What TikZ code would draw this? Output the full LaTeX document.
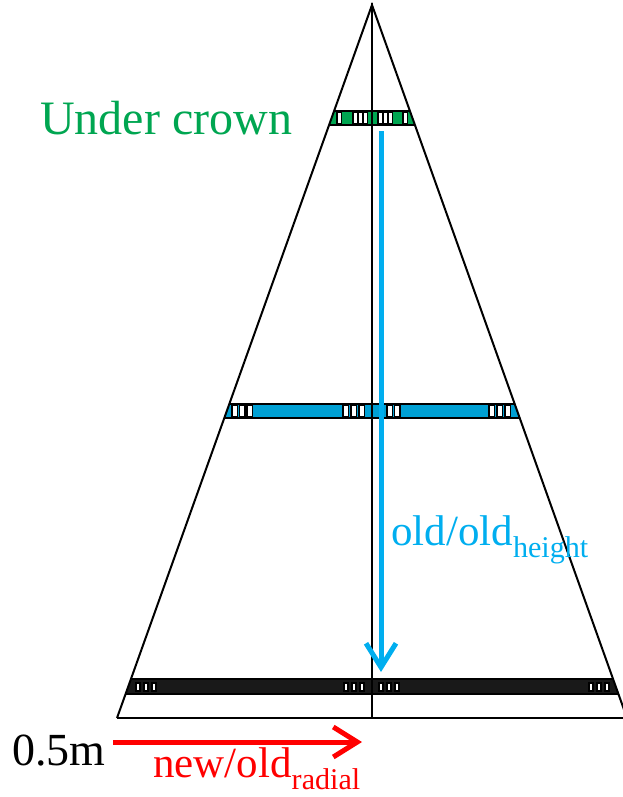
\documentclass[tikz,border=0pt]{standalone}
\usepackage{fontspec}
\setmainfont{Liberation Serif}
\usetikzlibrary{arrows.meta}

\definecolor{crowngreen}{RGB}{0,166,81}
\definecolor{bandblue}{RGB}{0,160,212}
\definecolor{arrowblue}{RGB}{0,174,239}
\definecolor{scalered}{RGB}{255,0,0}

\begin{document}
\begin{tikzpicture}[
  x=1pt, y=-1pt,
  outline/.style={line width=2pt, black},
  band/.style={draw=black, line width=1.5pt},
  cell/.style={draw=black, fill=white, line width=1.8pt},
  bigtext/.style={inner sep=0pt, font=\fontsize{46}{52}\selectfont},
  midtext/.style={inner sep=0pt, font=\fontsize{43}{48}\selectfont},
  flow/.style={line width=5pt, -{Straight Barb[length=24pt,width=30pt]}}
]
\useasboundingbox (0,0) rectangle (623,797);

% bands, cut by the crown outline
\begin{scope}
  \clip (372,5) -- (117,718) -- (627,718) -- cycle;
  \draw[band, fill=crowngreen] (300,111) rectangle (450,125);
  \foreach \x in {337,353,358,363,378,383,388,403} {
    \draw[cell] (\x,112) rectangle ++(4.5,12);
  }
  \draw[band, fill=bandblue] (200,404) rectangle (540,418);
  \foreach \x in {232,239.5,247,343,351,359,387,394.5,489,497,505} {
    \draw[cell] (\x,405) rectangle ++(5.5,12);
  }
  \draw[band, fill=black!90] (100,679) rectangle (640,694);
  \foreach \x in {136,144,152,344,352,360,379,387,395,589,597,605} {
    \draw[cell] (\x,683) rectangle ++(4,8);
  }
\end{scope}

% crown outline
\draw[outline] (117,718) -- (372,5) -- (627,718);
\draw[outline] (117,718) -- (627,718);
\draw[outline] (372,3) -- (372,718);

% arrows
\coordinate (crowntop) at (381,131);
\coordinate (crownbase) at (381,672);
\draw[flow, arrowblue] (crowntop) -- (crownbase);
\coordinate (scalestart) at (113,742);
\coordinate (scaleend) at (362,742);
\draw[flow, scalered] (scalestart) -- (scaleend);

% labels
\node[bigtext, crowngreen, anchor=base west, font=\fontsize{48}{52}\selectfont] (crownlabel) at (40,134) {Under crown};
\node[midtext, arrowblue, anchor=base west] (heightlabel) at (391,545) {old/old\textsubscript{height}};
\node[bigtext, anchor=base west] (scalelabel) at (12,765) {0.5m};
\node[midtext, scalered, anchor=base west] (radiallabel) at (153,777) {new/old\textsubscript{radial}};

\end{tikzpicture}
\end{document}
